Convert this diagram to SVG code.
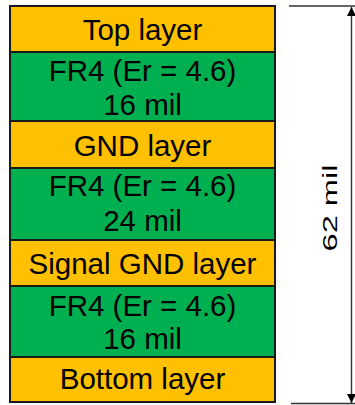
<svg xmlns="http://www.w3.org/2000/svg" width="355" height="405" viewBox="0 0 355 405">
  <style>
    .cu { fill: #FFC000; stroke: #1a1a1a; stroke-width: 2; }
    .fr4 { fill: #00B050; stroke: #1a1a1a; stroke-width: 2; }
    .lbl { font-family: "Liberation Sans", Arial, sans-serif; font-size: 29.5px; fill: #000; text-anchor: middle; }
    .dim { stroke: #333; stroke-width: 1.4; fill: none; }
  </style>
  <defs>
    <marker id="arr" viewBox="0 0 10 10" refX="10" refY="5" markerWidth="9" markerHeight="11" markerUnits="userSpaceOnUse" orient="auto">
      <path d="M0,0 L10,5 L0,10 Z" fill="#000"/>
    </marker>
  </defs>
  <g id="top-layer">
    <rect class="cu" x="10" y="6" width="265" height="46"/>
    <text class="lbl" x="142.5" y="39.5">Top layer</text>
  </g>
  <g id="fr4-1">
    <rect class="fr4" x="10" y="52" width="265" height="69"/>
    <text class="lbl" x="142.5" y="80.5">FR4 (Er = 4.6)</text>
    <text class="lbl" x="142.5" y="114.5">16 mil</text>
  </g>
  <g id="gnd-layer">
    <rect class="cu" x="10" y="121" width="265" height="47"/>
    <text class="lbl" x="142.5" y="155.5">GND layer</text>
  </g>
  <g id="fr4-2">
    <rect class="fr4" x="10" y="168" width="265" height="72"/>
    <text class="lbl" x="142.5" y="196">FR4 (Er = 4.6)</text>
    <text class="lbl" x="142.5" y="230.5">24 mil</text>
  </g>
  <g id="signal-gnd-layer">
    <rect class="cu" x="10" y="240" width="265" height="46"/>
    <text class="lbl" x="142.5" y="273.5">Signal GND layer</text>
  </g>
  <g id="fr4-3">
    <rect class="fr4" x="10" y="286" width="265" height="71"/>
    <text class="lbl" x="142.5" y="315.5">FR4 (Er = 4.6)</text>
    <text class="lbl" x="142.5" y="349">16 mil</text>
  </g>
  <g id="bottom-layer">
    <rect class="cu" x="10" y="357" width="265" height="45"/>
    <text class="lbl" x="142.5" y="389">Bottom layer</text>
  </g>
  <g id="connectors">
    <line class="dim" x1="289" y1="6" x2="355" y2="6"/>
    <line class="dim" x1="291" y1="403.5" x2="355" y2="403.5"/>
    <line class="dim" x1="351.5" y1="205" x2="351.5" y2="7" marker-end="url(#arr)"/>
    <line class="dim" x1="351.5" y1="205" x2="351.5" y2="403" marker-end="url(#arr)"/>
  </g>
  <g id="dimension-label">
    <text x="0" y="0" transform="translate(337,208) rotate(-90)" font-family="Liberation Sans, Arial, sans-serif" font-size="20.5" text-anchor="middle" textLength="87" lengthAdjust="spacingAndGlyphs">62 mil</text>
  </g>
</svg>
